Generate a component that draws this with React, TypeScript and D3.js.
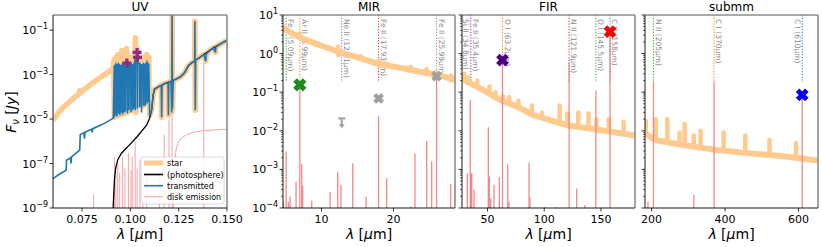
import React from "react";
import * as d3 from "d3";

type Pt = [number, number];

// ---------------- UV panel data ----------------
const uvXTicks = [0.075, 0.1, 0.125, 0.15];
const uvYTicks = [1e-1, 1e-3, 1e-5, 1e-7, 1e-9];

// star spectrum blueward of the Lyman edge
const uvStarBlue: Pt[] = [
  [0.060, 9e-6], [0.063, 2e-5], [0.066, 3.8e-5], [0.069, 6.5e-5], [0.072, 1.1e-4],
  [0.0736, 1.35e-4], [0.0738, 1.9e-4], [0.0741, 1.5e-4], [0.076, 2.1e-4], [0.080, 3.9e-4],
  [0.084, 7e-4], [0.088, 1.2e-3], [0.0905, 1.7e-3], [0.0912, 2.2e-3],
];
// transmitted spectrum blueward of the Lyman edge
const uvTransBlue: Pt[] = [
  [0.0600, 2.1e-8], [0.0630, 3.2e-8], [0.0668, 5e-8], [0.0670, 1.4e-7], [0.0690, 1.8e-7],
  [0.0693, 1.0e-7], [0.0696, 2e-7], [0.0738, 4e-7], [0.0741, 2e-6], [0.0760, 2.4e-6],
  [0.0763, 1.3e-6], [0.0766, 2.6e-6], [0.0800, 3.5e-6], [0.0803, 2.5e-6], [0.0806, 3.7e-6],
  [0.0850, 5.5e-6], [0.0880, 7.5e-6], [0.0912, 1.1e-5],
];
// star in the Lyman forest: [wavelength, top, floor]
const uvStarForest: [number, number, number][] = [
  [0.0914, 4e-3, 1.2e-5], [0.0920, 5e-3, 1.5e-5], [0.0926, 6e-3, 1.3e-5],
  [0.0931, 5e-3, 1.8e-5], [0.0937, 8e-3, 1.5e-5], [0.0943, 5e-3, 2e-5],
  [0.0949, 6e-3, 1.6e-5], [0.0956, 1.2e-2, 2e-5], [0.0962, 5e-3, 2.2e-5],
  [0.0968, 6e-3, 1.8e-5], [0.0975, 7e-3, 2.5e-5], [0.0981, 1.5e-2, 2e-5],
  [0.0988, 6e-3, 2.5e-5], [0.0995, 5e-3, 3e-5], [0.1002, 6e-3, 2.5e-5],
  [0.1009, 5e-3, 3e-5], [0.1016, 6e-3, 3.5e-5], [0.1026, 4.5e-2, 2e-5],
  [0.1035, 1.5e-2, 4e-5], [0.1045, 6e-3, 4e-5], [0.1055, 5e-3, 5e-5],
  [0.1065, 6e-3, 4e-5], [0.1075, 5e-3, 6e-5], [0.1085, 8e-3, 5e-5],
  [0.1095, 6e-3, 8e-5],
];
// transmitted absorption lines in the forest: [wavelength, continuum, floor]
const uvTransForest: [number, number, number][] = [
  [0.0918, 2.5e-3, 1.2e-5], [0.0925, 2.8e-3, 1.5e-5], [0.0931, 2.5e-3, 1.3e-5],
  [0.0938, 3e-3, 1.8e-5], [0.0946, 2.6e-3, 1.5e-5], [0.0953, 2.4e-3, 2e-5],
  [0.0960, 2.8e-3, 1.6e-5], [0.0968, 2.5e-3, 2e-5], [0.0975, 3e-3, 2.2e-5],
  [0.0985, 4e-3, 1.8e-5], [0.0993, 2.8e-3, 2.5e-5], [0.1003, 3e-3, 2e-5],
  [0.1012, 2.6e-3, 2.5e-5], [0.1019, 3e-3, 3e-5], [0.1026, 5e-3, 2.5e-5],
  [0.1037, 3.5e-3, 3e-5], [0.1049, 3e-3, 3.5e-5], [0.1058, 2.6e-3, 2e-5],
  [0.1068, 3e-3, 4e-5], [0.1077, 2.8e-3, 4e-5], [0.1086, 3.5e-3, 5e-5],
  [0.1094, 3e-3, 6e-5],
];
// redward of the forest, shared by star and transmitted
const uvRed: Pt[] = [
  [0.1100, 1.5e-5], [0.1110, 2.5e-5], [0.1118, 1.2e-4], [0.1125, 2.2e-4], [0.1150, 3e-4],
  [0.1160, 3.2e-4], [0.1162, 1.2e-5], [0.1164, 3.4e-4], [0.1180, 4e-4], [0.1195, 4.2e-4],
  [0.1197, 1.5e-5], [0.1199, 4.5e-4], [0.1210, 5e-4], [0.1214, 2e-5], [0.1216, 1.0],
  [0.1218, 3e-5], [0.1222, 5.5e-4], [0.1240, 6.5e-4], [0.1260, 8e-4], [0.1280, 1.2e-3],
  [0.1300, 2.5e-3], [0.1320, 3.5e-3], [0.1333, 4e-3], [0.1334, 0.25], [0.1336, 2.5e-5],
  [0.1338, 4.5e-3], [0.1360, 6e-3], [0.1380, 8e-3], [0.1390, 4e-3], [0.1393, 8.5e-3],
  [0.1410, 1.2e-2], [0.1430, 1.6e-2], [0.1440, 1e-2], [0.1443, 1.8e-2], [0.1470, 2.5e-2],
  [0.1500, 3.5e-2],
];
const uvPhot: Pt[] = [
  [0.0911, 1e-9], [0.0914, 4e-9], [0.0918, 2e-8], [0.0924, 6e-8], [0.0935, 1.5e-7],
  [0.0955, 3e-7], [0.0985, 5.5e-7], [0.1035, 1.6e-6], [0.1085, 5.5e-6], [0.1100, 1.1e-5],
  [0.1110, 2.5e-5], [0.1118, 1.2e-4], [0.1125, 2.2e-4], [0.115, 3e-4], [0.118, 4e-4],
  [0.121, 5e-4], [0.124, 6.5e-4], [0.126, 8e-4], [0.128, 1.2e-3], [0.130, 2.5e-3],
  [0.132, 3.5e-3], [0.136, 6e-3], [0.138, 8e-3], [0.141, 1.2e-2], [0.143, 1.6e-2],
  [0.147, 2.5e-2], [0.150, 3.5e-2],
];
const uvDiskCurve: Pt[] = [
  [0.1222, 1e-9], [0.1226, 1e-8], [0.1230, 1e-7], [0.1236, 4e-7], [0.1245, 8e-7],
  [0.126, 1.3e-6], [0.129, 2e-6], [0.133, 2.6e-6], [0.138, 3e-6], [0.145, 3.3e-6], [0.150, 3.5e-6],
];
// disk emission lines: [wavelength, peak]
const uvDiskLines: Pt[] = [
  [0.0810, 4e-9], [0.0918, 2e-7], [0.0925, 3e-8], [0.0935, 1e-7], [0.0945, 4e-8],
  [0.0960, 2e-7], [0.0972, 6e-8], [0.0990, 3e-7], [0.1003, 5e-8], [0.1010, 2e-7],
  [0.1025, 1e-6], [0.1035, 6e-8], [0.1050, 1.5e-7], [0.1065, 3e-8], [0.1085, 5e-8],
  [0.1150, 5e-8], [0.1175, 2e-6], [0.1200, 1e-5], [0.1216, 1e-4], [0.1380, 4e-3],
];
const uvPlus: Pt[] = [[0.0982, 3.3e-3], [0.1035, 1.0e-2], [0.1037, 6e-3]];

// ---------------- shared y for IR panels ----------------
const irYMajor = [1e1, 1e0, 1e-1, 1e-2, 1e-3, 1e-4];
const idFloor = 0.18;

// ---------------- MIR ----------------
const mirXTicks = [10, 20];
const mirStar: Pt[] = [
  [4.65, 5.0], [5.06, 4.1], [6.0, 3.3], [6.92, 2.7], [8, 2.2], [10, 1.6], [12.5, 1.1],
  [15, 0.8], [17.65, 0.56], [20, 0.46], [22.3, 0.38], [24, 0.33], [26.2, 0.28], [28.55, 0.21],
];
const mirStarBumps: [number, number, number][] = [
  [6.95, 2.5, 3.3], [12.3, 0.9, 1.5], [15.5, 0.72, 0.85], [18.0, 0.48, 0.65], [19.0, 0.45, 0.55],
  [22.4, 0.36, 0.45], [24.6, 0.31, 0.4], [26.0, 0.26, 0.34], [28.0, 0.2, 0.27],
];
const mirIdLabels = ["Fe II (5.09μm)", "Ar II (6.99μm)", "Ne II (12.81μm)", "Fe II (17.93μm)", "Fe II (25.99μm)"];
const mirIdWaves = [5.09, 6.99, 12.81, 17.93, 25.99];
const mirDisk: Pt[] = [
  [4.70, 1.4e-4], [5.09, 2.9e-3], [5.39, 1.45e-4], [5.63, 2e-4], [6.46, 4.8e-4], [6.99, 0.155],
  [7.25, 1.4e-3], [7.39, 3.7e-4], [8.64, 1.55e-4], [11.19, 2.6e-4], [12.25, 8.7e-4],
  [12.71, 4e-4], [14.34, 1.45e-3], [16.19, 1.95e-4], [17.93, 0.024], [19.06, 5.9e-4],
  [22.39, 1.1e-4], [22.99, 2.6e-3], [24.62, 5.5e-3], [25.31, 1.6e-3], [25.99, 0.26], [27.95, 4.1e-4],
];
const mirObs: Pt[] = [[6.99, 0.155], [17.93, 0.069], [25.99, 0.26]];
const mirUpper: Pt[] = [[12.81, 0.021]];

// ---------------- FIR ----------------
const firXTicks = [50, 100, 150];
const firStar: Pt[] = [
  [27.5, 0.23], [35, 0.17], [46, 0.115], [61, 0.063], [75.7, 0.043], [90, 0.026],
  [105, 0.019], [120, 0.014], [149, 0.0105], [180, 0.0075],
];
const firStarBumps: [number, number, number][] = [
  [29.5, 0.2, 0.3], [33, 0.17, 0.24], [41, 0.14, 0.2], [51.8, 0.1, 0.14], [57, 0.08, 0.1],
  [63.5, 0.06, 0.08], [69, 0.05, 0.075], [77.3, 0.04, 0.06], [89, 0.027, 0.045], [98, 0.022, 0.03],
  [113.6, 0.017, 0.045], [120.5, 0.014, 0.028], [130, 0.013, 0.03], [139, 0.012, 0.028],
  [146, 0.011, 0.02], [157, 0.0095, 0.02], [170, 0.0083, 0.017],
];
const firIdLabels = ["Si II (34.8μm)", "Fe II (35.4μm)", "O I (63.2μm)", "N II (121.9μm)", "O I (145.5μm)", "C II (158μm)"];
const firIdWaves = [34.8, 35.4, 63.2, 121.9, 145.5, 158];
const firDisk: Pt[] = [
  [32.2, 8e-4], [34.8, 0.063], [35.4, 8e-4], [36.1, 8e-4], [38.1, 3e-4], [50.7, 0.0123],
  [51.6, 6.5e-4], [52.8, 1.8e-4], [55.7, 4e-4], [60.4, 6.3e-4], [63.2, 0.68], [67.8, 1.35e-3],
  [68.9, 1.45e-4], [86.6, 1.5e-3], [87.4, 1.9e-4], [100.7, 1.05e-4], [111, 1.05e-4],
  [121.9, 0.6], [128.6, 3.2e-4], [135.9, 1.2e-4], [145.5, 0.11], [158, 3.7],
];
const firObs: Pt[] = [[63.2, 0.68], [158, 3.7]];

// ---------------- submm ----------------
const subXTicks = [200, 400, 600];
const subStar: Pt[] = [
  [182, 0.0085], [211, 0.0058], [284, 0.0043], [377, 0.0032], [469, 0.0026], [561, 0.0022], [653, 0.0017],
];
const subStarBumps: [number, number, number][] = [
  [184, 0.0083, 0.018], [211, 0.0058, 0.02], [243, 0.005, 0.02], [276, 0.0045, 0.009],
  [290, 0.0042, 0.015], [315, 0.004, 0.0075], [333, 0.0037, 0.01], [396, 0.0031, 0.009],
  [455, 0.0027, 0.0075], [521, 0.0024, 0.0058], [593, 0.002, 0.0048],
];
const subIdLabels = ["N II (205μm)", "C I (370μm)", "C I (610μm)"];
const subIdWaves = [205, 370, 610];
const subDisk: Pt[] = [[190, 1.45e-4], [205, 0.19], [315, 2.2e-4], [370, 0.19], [610, 0.085]];
const subObs: Pt[] = [[610, 0.085]];

const legendLabels = ["star", "(photosphere)", "transmitted", "disk emission"];

// ---------------- styling ----------------
const FONT = "DejaVu Sans, Verdana, sans-serif";
const TOP = 15;
const BOT = 208;
const STAR = "#ffca8e";
const BLUE = "#1f77b4";
const PINK = "#f27d7d";
const mirIdColors = ["#2ca02c", "#ff7f0e", "#9467bd", "#d62728", "#b07a7a"];
const firIdColors = ["#e377c2", "#9467bd", "#ff7f0e", "#d62728", "#2ca02c", "#1f77b4"];
const subIdColors = ["#2ca02c", "#ff7f0e", "#1f77b4"];
const mirObsColors = ["#1f8a1f", "#a0a0a0", "#a0a0a0"];
const firObsColors = ["#4b0082", "#ff0000"];
const subObsColors = ["#0000ff"];

type Sc = { x: d3.ScaleLinear<number, number>; y: d3.ScaleLogarithmic<number, number>; x0: number; x1: number; id: string };

function mk(id: string, x0: number, x1: number, xd: [number, number], yd: [number, number]): Sc {
  return {
    id, x0, x1,
    x: d3.scaleLinear().domain(xd).range([x0, x1]),
    y: d3.scaleLog().domain(yd).range([BOT, TOP]),
  };
}

function plusPath(r: number, w: number) {
  return `M${-w},${-r}L${w},${-r}L${w},${-w}L${r},${-w}L${r},${w}L${w},${w}L${w},${r}L${-w},${r}L${-w},${w}L${-r},${w}L${-r},${-w}L${-w},${-w}Z`;
}

function sup(exp: number) {
  return exp < 0 ? "\u2212" + Math.abs(exp) : String(exp);
}

function Frame({ s, title, xticks, fmt, yMajor, yLabels, yMinor }: {
  s: Sc; title: string; xticks: number[]; fmt: (v: number) => string;
  yMajor: number[]; yLabels: boolean; yMinor: number[];
}) {
  const cx = (s.x0 + s.x1) / 2;
  return (
    <g fontFamily={FONT}>
      <line x1={s.x0} x2={s.x1} y1={TOP} y2={TOP} stroke="#8c8c8c" strokeWidth={1.6} />
      <line x1={s.x1} x2={s.x1} y1={TOP} y2={BOT} stroke="#8c8c8c" strokeWidth={1.6} />
      <line x1={s.x0} x2={s.x0} y1={TOP} y2={BOT} stroke="#000" strokeWidth={0.9} />
      <line x1={s.x0} x2={s.x1} y1={BOT} y2={BOT} stroke="#000" strokeWidth={0.9} />
      {xticks.map((t) => (
        <g key={t}>
          <line x1={s.x(t)} x2={s.x(t)} y1={BOT} y2={BOT + 3.5} stroke="#000" strokeWidth={0.8} />
          <text x={s.x(t)} y={223} fontSize={11} textAnchor="middle">{fmt(t)}</text>
        </g>
      ))}
      {yMajor.map((t) => (
        <g key={t}>
          <line x1={s.x0 - 3.5} x2={s.x0} y1={s.y(t)} y2={s.y(t)} stroke="#000" strokeWidth={0.8} />
          {yLabels && (
            <text x={s.x0 - 5} y={s.y(t) + 4} fontSize={11} textAnchor="end">
              10<tspan dy={-5} fontSize={8}>{sup(Math.round(Math.log10(t)))}</tspan>
            </text>
          )}
        </g>
      ))}
      {yMinor.map((t, i) => (
        <line key={i} x1={s.x0 - 2} x2={s.x0} y1={s.y(t)} y2={s.y(t)} stroke="#000" strokeWidth={0.6} />
      ))}
      <text x={cx} y={TOP - 4} fontSize={12} textAnchor="middle">{title}</text>
      <text x={cx} y={239} fontSize={14} textAnchor="middle">
        <tspan fontStyle="italic">λ</tspan> [<tspan fontStyle="italic">μ</tspan>m]
      </text>
    </g>
  );
}

function IdLines({ s, labels, waves, colors, offsets }: {
  s: Sc; labels: string[]; waves: number[]; colors: string[]; offsets: number[];
}) {
  return (
    <g>
      {waves.map((w, i) => (
        <g key={i}>
          <line x1={s.x(w)} x2={s.x(w)} y1={TOP} y2={s.y(idFloor)} stroke={colors[i]}
            strokeWidth={1} strokeDasharray="1.2,1.6" />
          <text transform={`translate(${s.x(w) + offsets[i]},${TOP + 4}) rotate(90)`}
            fontSize={7.5} fill="#8a8a8a" fontFamily={FONT}>{labels[i]}</text>
        </g>
      ))}
    </g>
  );
}

function Star({ s, pts, bumps }: { s: Sc; pts: Pt[]; bumps: [number, number, number][] }) {
  const line = d3.line<Pt>().x((d) => s.x(d[0])).y((d) => s.y(d[1]));
  return (
    <g clipPath={`url(#clip-${s.id})`}>
      <path d={line(pts) || ""} fill="none" stroke={STAR} strokeWidth={6} strokeLinejoin="round" />
      {bumps.map((b, i) => (
        <line key={i} x1={s.x(b[0])} x2={s.x(b[0])} y1={s.y(b[1])} y2={s.y(b[2])}
          stroke={STAR} strokeWidth={4.5} strokeLinecap="round" />
      ))}
    </g>
  );
}

function Disk({ s, pts }: { s: Sc; pts: Pt[] }) {
  return (
    <g clipPath={`url(#clip-${s.id})`}>
      {pts.map((p, i) => (
        <line key={i} x1={s.x(p[0])} x2={s.x(p[0])} y1={BOT} y2={s.y(p[1])}
          stroke={PINK} strokeWidth={1.3} opacity={0.9} />
      ))}
    </g>
  );
}

function XMarks({ s, pts, colors, r }: { s: Sc; pts: Pt[]; colors: string[]; r: number[] }) {
  return (
    <g>
      {pts.map((p, i) => (
        <path key={i} d={plusPath(r[i], r[i] * 0.38)} fill={colors[i]}
          transform={`translate(${s.x(p[0])},${s.y(p[1])}) rotate(45)`} />
      ))}
    </g>
  );
}

function irMinor() {
  const out: number[] = [];
  for (let e = -4; e < 1; e++) for (let k = 2; k <= 9; k++) out.push(k * Math.pow(10, e));
  return out;
}

export default function App() {
  const uv = mk("uv", 53, 227, [0.06, 0.15], [1e-9, 0.48]);
  const mir = mk("mir", 283, 455, [4.65, 28.55], [1e-4, 10]);
  const fir = mk("fir", 462, 635, [27.5, 180], [1e-4, 10]);
  const sub = mk("sub", 645, 818, [182, 653], [1e-4, 10]);
  const minor = irMinor();

  const uvLine = d3.line<Pt>().x((d) => uv.x(d[0])).y((d) => uv.y(d[1]));
  const starPts: Pt[] = [
    ...uvStarBlue,
    ...uvStarForest.flatMap((f) => [[f[0], f[1]], [f[0] + 0.0003, f[2]]] as Pt[]),
    ...uvRed,
  ];
  const transPts: Pt[] = [
    ...uvTransBlue,
    ...uvTransForest.flatMap((f) => [[f[0] - 0.00012, f[1]], [f[0], f[2]], [f[0] + 0.00012, f[1]]] as Pt[]),
    ...uvRed,
  ];

  const panels = [uv, mir, fir, sub];
  const legendY = [163, 174.5, 185.7, 196.7];
  const legendStyle = [
    { stroke: STAR, w: 5 }, { stroke: "#000", w: 1.6 }, { stroke: BLUE, w: 1.6 }, { stroke: "#f5a3a3", w: 1 },
  ];

  return (
    <div style={{ position: "absolute", left: 0, top: 0 }}>
      <svg width={822} height={247} style={{ display: "block", background: "#fff" }}>
        <defs>
          {panels.map((p) => (
            <clipPath key={p.id} id={`clip-${p.id}`}>
              <rect x={p.x0} y={TOP} width={p.x1 - p.x0} height={BOT - TOP} />
            </clipPath>
          ))}
        </defs>

        {/* UV */}
        <g clipPath="url(#clip-uv)">
          <path d={uvLine(uvDiskCurve) || ""} fill="none" stroke="#f5a3a3" strokeWidth={1} />
          {uvDiskLines.map((p, i) => (
            <line key={i} x1={uv.x(p[0])} x2={uv.x(p[0])} y1={BOT} y2={uv.y(p[1])} stroke="#f5a3a3" strokeWidth={1} />
          ))}
          <path d={uvLine(starPts) || ""} fill="none" stroke={STAR} strokeWidth={5.5} strokeLinejoin="round" />
          <path d={uvLine(uvPhot) || ""} fill="none" stroke="#000" strokeWidth={1.3} />
          <path d={uvLine(transPts) || ""} fill="none" stroke={BLUE} strokeWidth={1.6} />
          {uvPlus.map((p, i) => (
            <path key={i} d={plusPath(4.5, 1.6)} fill="#8e2f7e"
              transform={`translate(${uv.x(p[0])},${uv.y(p[1])})`} />
          ))}
        </g>
        <g fontFamily={FONT}>
          <rect x={141} y={157} width={83} height={47} rx={2} fill="#fff" fillOpacity={0.85} stroke="#d0d0d0" strokeWidth={0.8} />
          {legendLabels.map((l, i) => (
            <g key={l}>
              <line x1={144} x2={163} y1={legendY[i]} y2={legendY[i]} stroke={legendStyle[i].stroke} strokeWidth={legendStyle[i].w} />
              <text x={167} y={legendY[i] + 3} fontSize={8}>{l}</text>
            </g>
          ))}
        </g>
        <Frame s={uv} title="UV" xticks={uvXTicks} fmt={(v) => v.toFixed(3)} yMajor={uvYTicks} yLabels={true} yMinor={[]} />

        {/* MIR */}
        <IdLines s={mir} labels={mirIdLabels} waves={mirIdWaves} colors={mirIdColors} offsets={[2.3, 2.3, 2.3, 2.3, 2.3]} />
        <Star s={mir} pts={mirStar} bumps={mirStarBumps} />
        <Disk s={mir} pts={mirDisk} />
        <XMarks s={mir} pts={mirObs} colors={mirObsColors} r={[6.8, 5.5, 5.5]} />
        {mirUpper.map((p, i) => {
          const x = mir.x(p[0]);
          const y = mir.y(p[1]);
          return (
            <g key={i} fill="#a0a0a0" stroke="#a0a0a0">
              <line x1={x - 3.5} x2={x + 3.5} y1={y} y2={y} strokeWidth={2} />
              <line x1={x} x2={x} y1={y} y2={y + 7} strokeWidth={2} />
              <path d={`M${x - 3},${y + 6}L${x + 3},${y + 6}L${x},${y + 10}Z`} stroke="none" />
            </g>
          );
        })}
        <Frame s={mir} title="MIR" xticks={mirXTicks} fmt={(v) => String(v)} yMajor={irYMajor} yLabels={true} yMinor={minor} />

        {/* FIR */}
        <IdLines s={fir} labels={firIdLabels} waves={firIdWaves} colors={firIdColors} offsets={[-7, 2.3, 2.3, 2.3, 2.3, 2.3]} />
        <Star s={fir} pts={firStar} bumps={firStarBumps} />
        <Disk s={fir} pts={firDisk} />
        <XMarks s={fir} pts={firObs} colors={firObsColors} r={[6.5, 6.5]} />
        <Frame s={fir} title="FIR" xticks={firXTicks} fmt={(v) => String(v)} yMajor={irYMajor} yLabels={false} yMinor={minor} />

        {/* submm */}
        <IdLines s={sub} labels={subIdLabels} waves={subIdWaves} colors={subIdColors} offsets={[2.3, 2.3, -7]} />
        <Star s={sub} pts={subStar} bumps={subStarBumps} />
        <Disk s={sub} pts={subDisk} />
        <XMarks s={sub} pts={subObs} colors={subObsColors} r={[6.5]} />
        <Frame s={sub} title="submm" xticks={subXTicks} fmt={(v) => String(v)} yMajor={irYMajor} yLabels={false} yMinor={minor} />

        <text transform="translate(16,112) rotate(-90)" fontFamily={FONT} fontSize={14} textAnchor="middle">
          <tspan fontStyle="italic">F</tspan>
          <tspan fontStyle="italic" fontSize={10} dy={3}>ν</tspan>
          <tspan dy={-3}> [</tspan>
          <tspan fontStyle="italic">Jy</tspan>
          <tspan>]</tspan>
        </text>
      </svg>
    </div>
  );
}
